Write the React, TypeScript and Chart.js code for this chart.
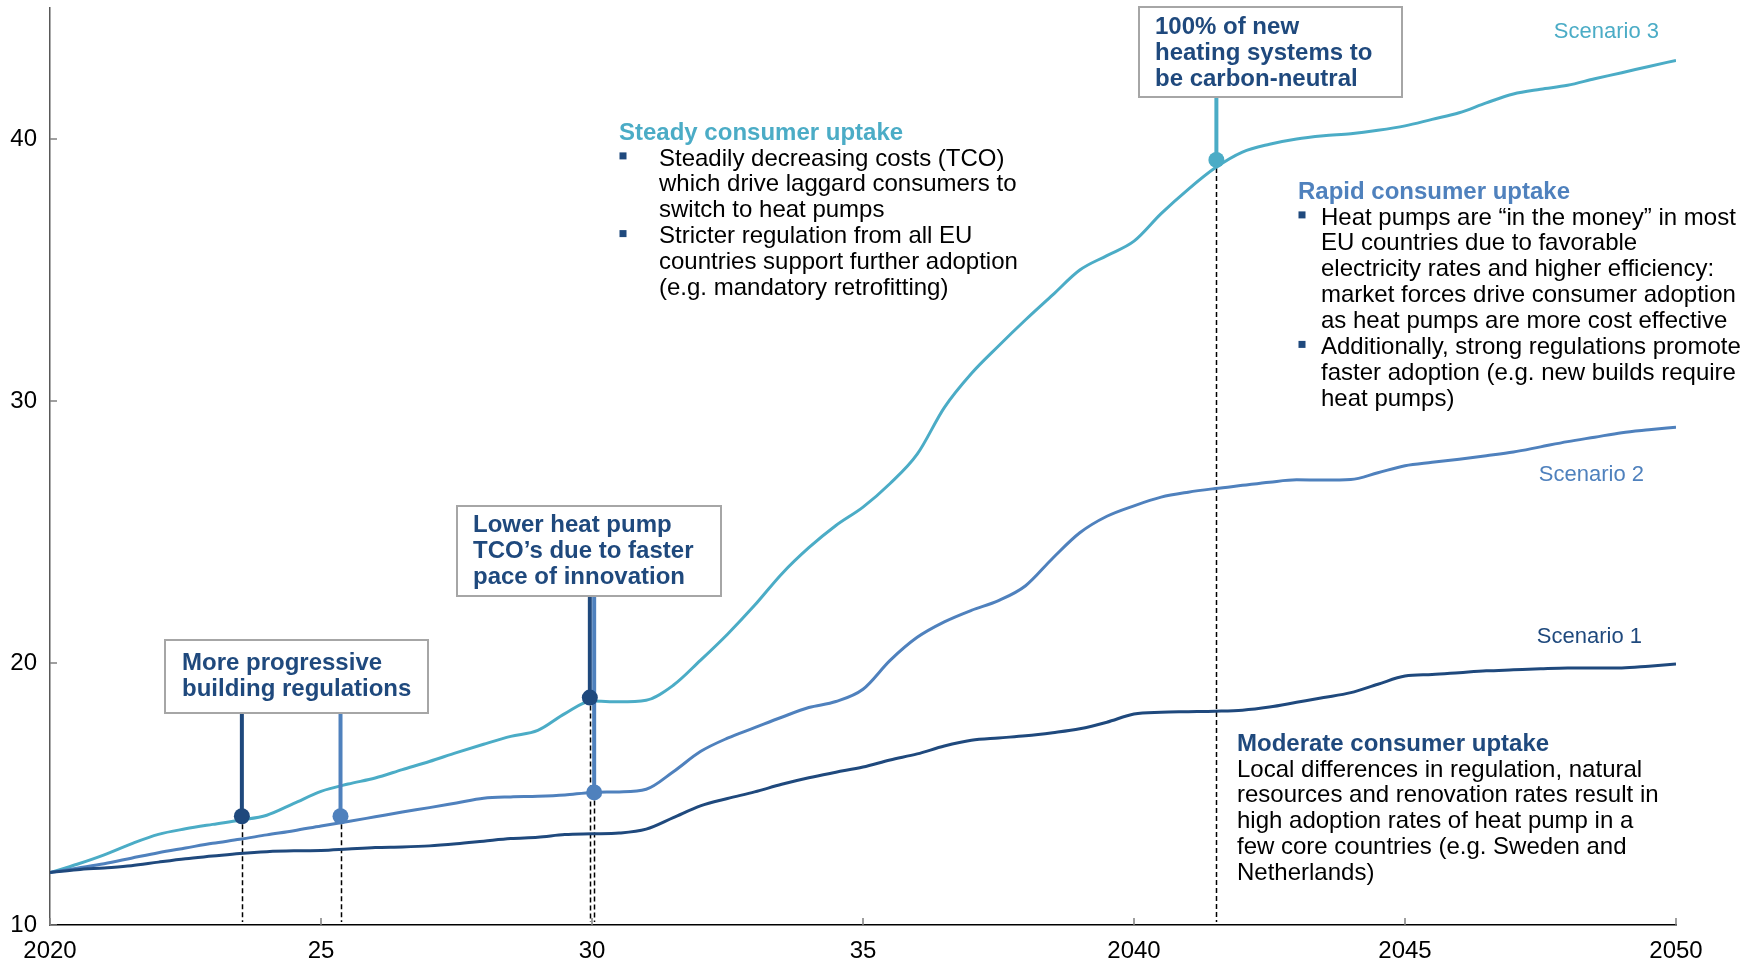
import React, { useEffect, useRef } from "react";
import { Chart, registerables } from "chart.js";

Chart.register(...registerables);

// ---------------- data ----------------
const years = [
  2020, 2020.5, 2021, 2021.5, 2022, 2022.5, 2023, 2023.5, 2024, 2024.5,
  2025, 2025.5, 2026, 2026.5, 2027, 2027.5, 2028, 2028.5, 2029, 2029.5,
  2030, 2030.5, 2031, 2031.5, 2032, 2032.5, 2033, 2033.5, 2034, 2034.5,
  2035, 2035.5, 2036, 2036.5, 2037, 2037.5, 2038, 2038.5, 2039, 2039.5,
  2040, 2040.5, 2041, 2041.5, 2042, 2042.5, 2043, 2043.5, 2044, 2044.5,
  2045, 2045.5, 2046, 2046.5, 2047, 2047.5, 2048, 2048.5, 2049, 2049.5,
  2050,
];

const scenario3 = [
  12.0, 12.32, 12.68, 13.1, 13.46, 13.67, 13.84, 14.0, 14.19, 14.64,
  15.1, 15.38, 15.61, 15.93, 16.24, 16.58, 16.9, 17.2, 17.43, 18.07,
  18.55, 18.52, 18.58, 19.15, 20.1, 21.1, 22.2, 23.4, 24.4, 25.25,
  25.95, 26.85, 27.97, 29.75, 31.05, 32.1, 33.1, 34.05, 35.0, 35.55,
  36.1, 37.15, 38.08, 38.9, 39.5, 39.8, 40.0, 40.12, 40.2, 40.33,
  40.5, 40.75, 41.0, 41.38, 41.72, 41.9, 42.05, 42.3, 42.53, 42.77,
  43.0,
];

const scenario2 = [
  12.0, 12.17, 12.34, 12.55, 12.76, 12.94, 13.12, 13.27, 13.44, 13.6,
  13.78, 13.95, 14.13, 14.31, 14.48, 14.66, 14.84, 14.89, 14.91, 14.96,
  15.06, 15.08, 15.18, 15.85, 16.62, 17.13, 17.53, 17.93, 18.3, 18.53,
  19.0, 20.1, 20.98, 21.57, 22.01, 22.38, 22.95, 24.0, 24.97, 25.6,
  26.0, 26.33, 26.52, 26.66, 26.78, 26.9, 26.99, 26.98, 27.0, 27.26,
  27.53, 27.66, 27.78, 27.91, 28.05, 28.25, 28.45, 28.62, 28.79, 28.9,
  29.0,
];

const scenario1 = [
  12.0, 12.11, 12.18, 12.26, 12.4, 12.53, 12.63, 12.73, 12.8, 12.83,
  12.84, 12.9, 12.96, 12.98, 13.02, 13.1, 13.2, 13.3, 13.35, 13.45,
  13.48, 13.51, 13.66, 14.1, 14.55, 14.83, 15.08, 15.37, 15.62, 15.83,
  16.03, 16.3, 16.53, 16.83, 17.05, 17.14, 17.22, 17.34, 17.49, 17.74,
  18.05, 18.12, 18.14, 18.16, 18.2, 18.32, 18.5, 18.68, 18.87, 19.19,
  19.5, 19.56, 19.63, 19.7, 19.74, 19.78, 19.81, 19.81, 19.81, 19.88,
  19.96,
];

const xTickValues = [2020, 2025, 2030, 2035, 2040, 2045, 2050];
const xTickLabels = ["2020", "25", "30", "35", "2040", "2045", "2050"];
const yTickValues = [10, 20, 30, 40];
const yTickLabels = ["10", "20", "30", "40"];

// milestone markers (year, value) and the callout box each one belongs to
const markerYears = [2023.54, 2025.36, 2029.96, 2030.04, 2041.52];
const markerValues = [14.15, 14.15, 18.68, 15.06, 39.2];
const markerBox = [0, 0, 1, 1, 2];

const scenarioNames = ["Scenario 1", "Scenario 2", "Scenario 3"];

// ---------------- styling ----------------
const NAVY = "#1F497D";
const MID = "#4F81BD";
const TEAL = "#4BACC6";
const FONT = "'Liberation Sans', Arial, Helvetica, sans-serif";
const markerColors = [NAVY, MID, NAVY, MID, TEAL];

const boxes = [
  { x: 165, y: 640, w: 263, h: 73, tx: 182, ty: 663, lines: ["More progressive", "building regulations"] },
  { x: 457, y: 506, w: 264, h: 90, tx: 473, ty: 525, lines: ["Lower heat pump", "TCO\u2019s due to faster", "pace of innovation"] },
  { x: 1139, y: 7, w: 263, h: 90, tx: 1155, ty: 27, lines: ["100% of new", "heating systems to", "be carbon-neutral"] },
];

const blocks = [
  {
    title: "Steady consumer uptake", color: TEAL, x: 619, y: 133, textX: 659, bulletX: 623,
    lines: [
      "Steadily decreasing costs (TCO)",
      "which drive laggard consumers to",
      "switch to heat pumps",
      "Stricter regulation from all EU",
      "countries support further adoption",
      "(e.g. mandatory retrofitting)",
    ],
    bullets: [0, 3],
  },
  {
    title: "Rapid consumer uptake", color: MID, x: 1298, y: 192, textX: 1321, bulletX: 1302,
    lines: [
      "Heat pumps are \u201Cin the money\u201D in most",
      "EU countries due to favorable",
      "electricity rates and higher efficiency:",
      "market forces drive consumer adoption",
      "as heat pumps are more cost effective",
      "Additionally, strong regulations promote",
      "faster adoption (e.g. new builds require",
      "heat pumps)",
    ],
    bullets: [0, 5],
  },
  {
    title: "Moderate consumer uptake", color: NAVY, x: 1237, y: 744, textX: 1237, bulletX: 0,
    lines: [
      "Local differences in regulation, natural",
      "resources and renovation rates result in",
      "high adoption rates of heat pump in a",
      "few core countries (e.g. Sweden and",
      "Netherlands)",
    ],
    bullets: [] as number[],
  },
];

const scenarioLabels = [
  { color: NAVY, right: 1642, y: 637 },
  { color: MID, right: 1644, y: 475 },
  { color: TEAL, right: 1659, y: 32 },
];

const LINE_GAP = 25.9;

const overlayPlugin = {
  id: "overlay",
  beforeDatasetsDraw(chart: any) {
    const { ctx, scales } = chart;
    const x = scales.x, y = scales.y;
    const bottom = chart.chartArea.bottom;
    ctx.save();
    // dashed drop lines
    ctx.strokeStyle = "#000";
    ctx.lineWidth = 1.5;
    ctx.setLineDash([5, 3]);
    markerYears.forEach((yr, i) => {
      const px = Math.round(x.getPixelForValue(yr)) + 0.5;
      ctx.beginPath();
      ctx.moveTo(px, y.getPixelForValue(markerValues[i]));
      ctx.lineTo(px, bottom - 3);
      ctx.stroke();
    });
    ctx.setLineDash([]);
    // inward tick marks
    ctx.strokeStyle = "#7f7f7f";
    ctx.lineWidth = 1.5;
    xTickValues.forEach((v) => {
      const px = x.getPixelForValue(v);
      ctx.beginPath();
      ctx.moveTo(px, bottom);
      ctx.lineTo(px, bottom - 7);
      ctx.stroke();
    });
    yTickValues.forEach((v) => {
      const py = y.getPixelForValue(v);
      ctx.beginPath();
      ctx.moveTo(chart.chartArea.left, py);
      ctx.lineTo(chart.chartArea.left + 7, py);
      ctx.stroke();
    });
    ctx.restore();
  },
  beforeDatasetDraw(chart: any, args: any) {
    if (args.index !== 3) return;
    const { ctx, scales } = chart;
    ctx.save();
    ctx.lineWidth = 4;
    markerYears.forEach((yr, i) => {
      const b = boxes[markerBox[i]];
      const px = scales.x.getPixelForValue(yr);
      ctx.strokeStyle = markerColors[i];
      ctx.beginPath();
      ctx.moveTo(px, b.y + b.h);
      ctx.lineTo(px, scales.y.getPixelForValue(markerValues[i]));
      ctx.stroke();
    });
    ctx.restore();
  },
  afterDraw(chart: any) {
    const { ctx } = chart;
    ctx.save();
    ctx.textBaseline = "middle";
    ctx.textAlign = "left";
    // callout boxes
    boxes.forEach((b) => {
      ctx.fillStyle = "#fff";
      ctx.fillRect(b.x, b.y, b.w, b.h);
      ctx.strokeStyle = "#a6a6a6";
      ctx.lineWidth = 2;
      ctx.strokeRect(b.x, b.y, b.w, b.h);
      ctx.fillStyle = NAVY;
      ctx.font = `bold 24px ${FONT}`;
      b.lines.forEach((l, i) => ctx.fillText(l, b.tx, b.ty + i * 26));
    });
    // text blocks
    blocks.forEach((bl) => {
      ctx.fillStyle = bl.color;
      ctx.font = `bold 24px ${FONT}`;
      ctx.fillText(bl.title, bl.x, bl.y);
      ctx.font = `24px ${FONT}`;
      bl.lines.forEach((l, i) => {
        const ly = bl.y + LINE_GAP * (i + 1);
        ctx.fillStyle = "#000";
        ctx.fillText(l, bl.textX, ly);
        if (bl.bullets.includes(i)) {
          ctx.fillStyle = NAVY;
          ctx.fillRect(bl.bulletX - 3.5, ly - 6.5, 7, 7);
        }
      });
    });
    // scenario labels
    ctx.font = `22px ${FONT}`;
    ctx.textAlign = "right";
    scenarioLabels.forEach((s, i) => {
      ctx.fillStyle = s.color;
      ctx.fillText(scenarioNames[i], s.right, s.y);
    });
    ctx.restore();
  },
};

export default function App() {
  const canvasRef = useRef<HTMLCanvasElement | null>(null);

  useEffect(() => {
    if (!canvasRef.current) return;
    const toPts = (vals: number[]) => years.map((yr, i) => ({ x: yr, y: vals[i] }));
    const lineDs = (label: string, vals: number[], color: string) => ({
      type: "line" as const,
      label,
      data: toPts(vals),
      borderColor: color,
      borderWidth: 3,
      pointRadius: 0,
      fill: false,
      cubicInterpolationMode: "monotone" as const,
      order: 1,
    });
    const chart = new Chart(canvasRef.current, {
      type: "line",
      data: {
        datasets: [
          lineDs(scenarioNames[0], scenario1, NAVY),
          lineDs(scenarioNames[1], scenario2, MID),
          lineDs(scenarioNames[2], scenario3, TEAL),
          {
            type: "scatter" as const,
            label: "milestones",
            data: markerYears.map((yr, i) => ({ x: yr, y: markerValues[i] })),
            pointRadius: 8,
            pointBackgroundColor: markerColors,
            pointBorderWidth: 0,
            showLine: false,
            order: -1,
          } as any,
        ],
      },
      options: {
        responsive: false,
        animation: false,
        devicePixelRatio: 1,
        layout: { padding: { top: 6, right: 70, left: 0, bottom: 0 } },
        plugins: { legend: { display: false }, tooltip: { enabled: false } },
        scales: {
          x: {
            type: "linear",
            min: 2020,
            max: 2050,
            afterBuildTicks: (s: any) => {
              s.ticks = xTickValues.map((v) => ({ value: v }));
            },
            afterFit: (s: any) => {
              s.height = 40;
              s.paddingLeft = 0;
              s.paddingRight = 0;
            },
            grid: { display: false, drawTicks: false },
            border: { display: true, color: "#000", width: 1.5 },
            ticks: {
              padding: 12,
              color: "#000",
              maxRotation: 0,
              autoSkip: false,
              font: { family: FONT, size: 24 },
              callback: (_v: any, i: number) => xTickLabels[i],
            },
          },
          y: {
            type: "linear",
            min: 10,
            max: 45,
            afterBuildTicks: (s: any) => {
              s.ticks = yTickValues.map((v) => ({ value: v }));
            },
            afterFit: (s: any) => {
              s.width = 50;
              s.paddingTop = 0;
              s.paddingBottom = 0;
            },
            grid: { display: false, drawTicks: false },
            border: { display: true, color: "#595959", width: 1.5 },
            ticks: {
              padding: 13,
              color: "#000",
              font: { family: FONT, size: 24 },
              callback: (_v: any, i: number) => yTickLabels[i],
            },
          },
        },
      } as any,
      plugins: [overlayPlugin],
    });
    return () => chart.destroy();
  }, []);

  return (
    <div style={{ position: "absolute", left: 0, top: 0, width: 1746, height: 965, background: "#fff" }}>
      <canvas ref={canvasRef} width={1746} height={965} style={{ display: "block" }} />
    </div>
  );
}
